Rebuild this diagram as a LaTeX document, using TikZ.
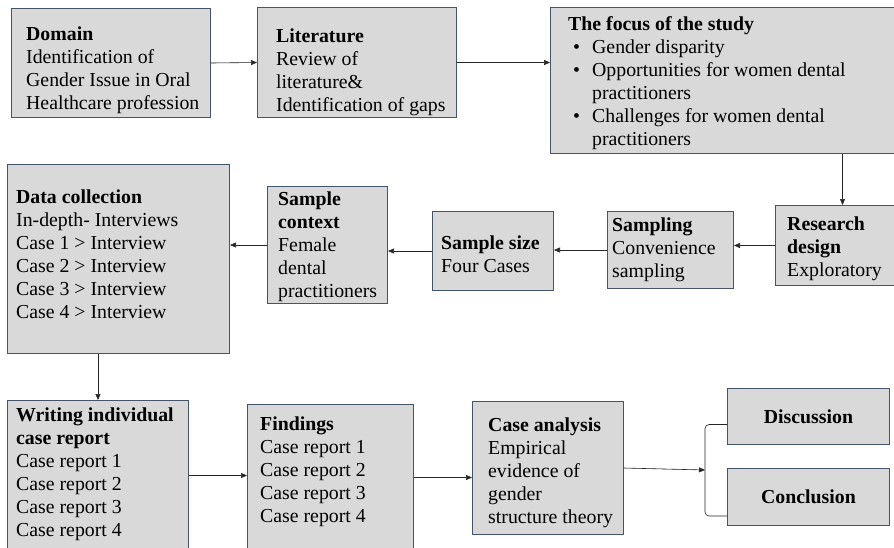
\documentclass[tikz,border=0pt]{standalone}
\usepackage{fontspec}
\setmainfont{LiberationSerif}[Extension=.ttf, UprightFont=*-Regular, BoldFont=*-Bold]
\usetikzlibrary{arrows.meta,positioning,calc}
\definecolor{StageFill}{HTML}{D9D9D9}
\definecolor{StageEdge}{HTML}{44546A}
\definecolor{LinkGray}{HTML}{262626}
\newcommand{\bulletline}[1]{\hspace*{5pt}\makebox[19pt][l]{\textbullet}#1}

\begin{document}
\begin{tikzpicture}[
  x=1pt, y=-1pt,
  stage/.style={draw=StageEdge, fill=StageFill, line width=1pt, anchor=north west, inner sep=0pt},
  stagetxt/.style={anchor=north west, inner sep=0pt, align=left, font=\fontsize{19.8}{23}\selectfont},
  arrow/.style={-{Triangle[length=6pt,width=5pt]}, line width=0.6pt, draw=LinkGray, fill=LinkGray}
]
\useasboundingbox (0,0) rectangle (894,547);

% stage boxes
\node[stage, minimum width=199pt, minimum height=109pt] (domain) at (11,8) {};
\node[stage, minimum width=199pt, minimum height=110pt] (lit) at (257,7) {};
\node[stage, minimum width=360pt, minimum height=146pt] (focus) at (550,7) {};
\node[stage, minimum width=130pt, minimum height=80pt] (research) at (775,205) {};
\node[stage, minimum width=126pt, minimum height=77pt] (sampling) at (607,211) {};
\node[stage, minimum width=121pt, minimum height=79pt] (size) at (432,211) {};
\node[stage, minimum width=120pt, minimum height=117pt] (context) at (267,186) {};
\node[stage, minimum width=222pt, minimum height=189pt] (data) at (7,164) {};
\node[stage, minimum width=181pt, minimum height=150pt] (writing) at (7,400) {};
\node[stage, minimum width=166pt, minimum height=146pt] (findings) at (247,404) {};
\node[stage, minimum width=151pt, minimum height=133pt] (case) at (472,401) {};
\node[stage, font=\fontsize{19.8}{23}\selectfont, minimum width=162pt, minimum height=56pt] (disc) at (727,388) {\textbf{Discussion}};
\node[stage, font=\fontsize{19.8}{23}\selectfont, minimum width=162pt, minimum height=57pt] (concl) at (727,468) {\textbf{Conclusion}};

% box texts
\node[stagetxt] (domaintxt) at ([xshift=15pt,yshift=-19pt]domain.north west)
  {\textbf{Domain}\\Identification of\\Gender Issue in Oral\\Healthcare profession};
\node[stagetxt] (littxt) at ([xshift=19pt,yshift=-22pt]lit.north west)
  {\textbf{Literature}\\Review of\\literature\&\\Identification of gaps};
\node[stagetxt] (focustxt) at ([xshift=18pt,yshift=-9pt]focus.north west)
  {\textbf{The focus of the study}\\
   \bulletline{Gender disparity}\\
   \bulletline{Opportunities for women dental}\\
   \hspace*{24pt}practitioners\\
   \bulletline{Challenges for women dental}\\
   \hspace*{24pt}practitioners};
\node[stagetxt] (researchtxt) at ([xshift=12pt,yshift=-12pt]research.north west)
  {\textbf{Research}\\\textbf{design}\\Exploratory};
\node[stagetxt] (samplingtxt) at ([xshift=5pt,yshift=-7pt]sampling.north west)
  {\textbf{Sampling}\\Convenience\\sampling};
\node[stagetxt] (sizetxt) at ([xshift=9pt,yshift=-25pt]size.north west)
  {\textbf{Sample size}\\Four Cases};
\node[stagetxt] (contexttxt) at ([xshift=11pt,yshift=-6pt]context.north west)
  {\textbf{Sample}\\\textbf{context}\\Female\\dental\\practitioners};
\node[stagetxt] (datatxt) at ([xshift=9pt,yshift=-26pt]data.north west)
  {\textbf{Data collection}\\In-depth- Interviews\\Case 1 > Interview\\Case 2 > Interview\\Case 3 > Interview\\Case 4 > Interview};
\node[stagetxt] (writingtxt) at ([xshift=9pt,yshift=-8pt]writing.north west)
  {\textbf{Writing individual}\\\textbf{case report}\\Case report 1\\Case report 2\\Case report 3\\Case report 4};
\node[stagetxt] (findingstxt) at ([xshift=13pt,yshift=-13pt]findings.north west)
  {\textbf{Findings}\\Case report 1\\Case report 2\\Case report 3\\Case report 4};
\node[stagetxt] (casetxt) at ([xshift=16pt,yshift=-17pt]case.north west)
  {\textbf{Case analysis}\\Empirical\\evidence of\\gender\\structure theory};

% links
\draw[arrow] (domain.east) -- (lit.west);
\draw[arrow] (lit.east) -- (lit.east -| focus.west);
\draw[arrow] ([xshift=2pt]research.north |- focus.south) -- ([xshift=2pt]research.north);
\draw[arrow] (research.west) -- (research.west -| sampling.east);
\draw[arrow] (sampling.west) -- (sampling.west -| size.east);
\draw[arrow] (size.west) -- (size.west -| context.east);
\draw[arrow] (context.west) -- (context.west -| data.east);
\draw[arrow] (data.south -| writing.north) -- (writing.north);
\draw[arrow] (writing.east) -- (writing.east -| findings.west);
\draw[arrow] (findings.east) -- (findings.east -| case.west);
\coordinate (join) at (705,470);
\draw[arrow] (case.east) -- (join);
\draw[line width=0.6pt, draw=LinkGray, rounded corners=4pt]
  ([yshift=-8pt]disc.west) -| (join) |- ([yshift=-19pt]concl.west);
\end{tikzpicture}
\end{document}
